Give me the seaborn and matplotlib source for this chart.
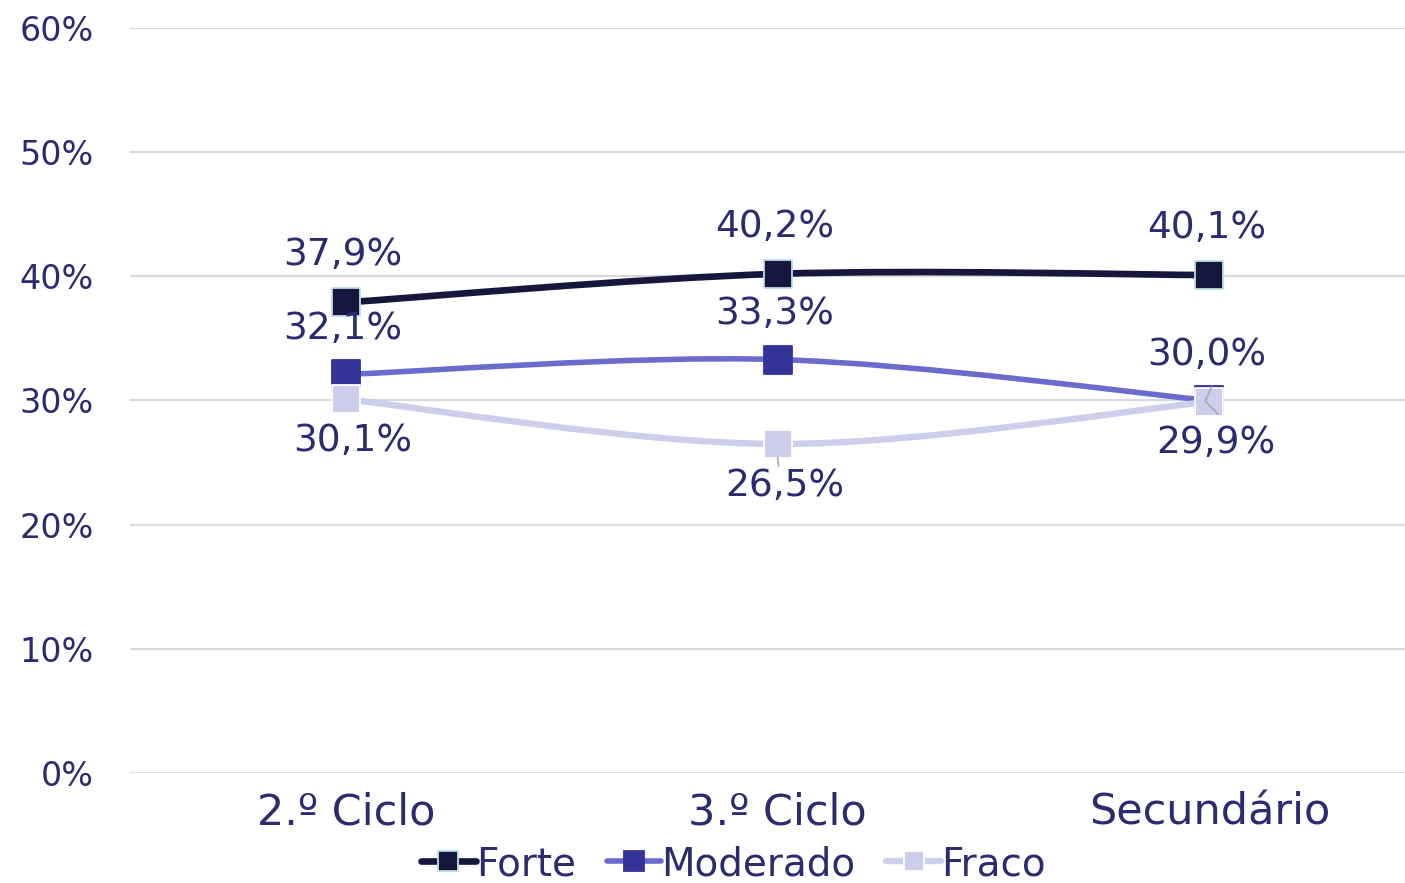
import matplotlib
matplotlib.use("Agg")
import matplotlib.pyplot as plt
import seaborn as sns
import numpy as np
import pandas as pd
from matplotlib.path import Path
from matplotlib.patches import PathPatch
from matplotlib.lines import Line2D
from matplotlib.ticker import FuncFormatter

# data
ciclos = ["2.º Ciclo", "3.º Ciclo", "Secundário"]
forte = [37.9, 40.2, 40.1]
moderado = [32.1, 33.3, 30.0]
fraco = [30.1, 26.5, 29.9]
series_names = ["Forte", "Moderado", "Fraco"]

text_col = "#2b2b70"
styles = {
    "Forte": dict(line="#16163f", face="#16163f", edge="#b9e0e0", lw=4.8),
    "Moderado": dict(line="#6b6bcc", face="#333399", edge="#333399", lw=4.0),
    "Fraco": dict(line="#cdcdec", face="#cdcdec", edge="#ffffff", lw=4.6),
}

df = pd.DataFrame({
    "pos": list(range(3)) * 3,
    "valor": forte + moderado + fraco,
    "nivel": [n for n in series_names for _ in range(3)],
})

sns.set_theme(style="white")
plt.rcParams["font.family"] = ["DejaVu Sans"]

fig = plt.figure(figsize=(14.05, 8.83), dpi=100)
ax = fig.add_axes([0.0925, 0.1246, 0.9075, 0.8437])


def smooth_path(xs, ys):
    # bezier segments like a spreadsheet "smoothed line"
    pts = np.column_stack([xs, ys]).astype(float)
    n = len(pts)
    verts = [pts[0]]
    codes = [Path.MOVETO]
    for i in range(n - 1):
        p_prev = pts[i - 1] if i > 0 else pts[i]
        p_next2 = pts[i + 2] if i + 2 < n else pts[i + 1]
        c1 = pts[i] + (pts[i + 1] - p_prev) / 6
        c2 = pts[i + 1] - (p_next2 - pts[i]) / 6
        verts += [c1, c2, pts[i + 1]]
        codes += [Path.CURVE4] * 3
    return Path(verts, codes)


for name in series_names:
    st = styles[name]
    sub = df[df["nivel"] == name]
    patch = PathPatch(smooth_path(sub["pos"], sub["valor"]), facecolor="none",
                      edgecolor=st["line"], lw=st["lw"], capstyle="round", zorder=3)
    ax.add_patch(patch)
    sns.scatterplot(data=sub, x="pos", y="valor", marker="s", s=20 ** 2,
                    color=st["face"], edgecolor=st["edge"], linewidth=1.3,
                    ax=ax, zorder=4, legend=False)

# small leader lines (grey) for labels pushed off their point
ax.plot([1, 1.002], [25.4, 24.7], color="#aaaaaa", lw=1.2, zorder=5)
ax.plot([2.005, 1.99, 2.02], [31.1, 29.95, 28.9], color="#aaaaaa", lw=1.2, zorder=5)

# data labels
lab_kw = dict(ha="center", va="center", fontsize=27, color=text_col, zorder=5)
for i, v in enumerate(forte):
    ax.annotate(f"{v:.1f}%".replace(".", ","), (i, v), xytext=(-2, 34),
                textcoords="offset points", **lab_kw)
for i, v in enumerate(moderado):
    ax.annotate(f"{v:.1f}%".replace(".", ","), (i, v), xytext=(-2, 33),
                textcoords="offset points", **lab_kw)
for i, v in enumerate(fraco):
    ax.annotate(f"{v:.1f}%".replace(".", ","), (i, v), xytext=(5, -30),
                textcoords="offset points", **lab_kw)

ax.set_xlim(-0.5, 2.453)
ax.set_ylim(0, 60)
ax.set_yticks(range(0, 61, 10))
ax.yaxis.set_major_formatter(FuncFormatter(lambda v, p: f"{v:.0f}%"))
ax.set_xticks(range(3))
ax.set_xticklabels(ciclos)
ax.tick_params(axis="y", labelsize=24, labelcolor=text_col, length=0, pad=26)
ax.tick_params(axis="x", labelsize=31, labelcolor=text_col, length=0, pad=13)
ax.grid(axis="y", color="#d9d9d9", lw=1.6)
ax.set_axisbelow(True)
for s in ax.spines.values():
    s.set_visible(False)
ax.set_xlabel("")
ax.set_ylabel("")

handles = [
    Line2D([0], [0], color=styles[n]["line"], lw=styles[n]["lw"], marker="s",
           markersize=14, markerfacecolor=styles[n]["face"],
           markeredgecolor=styles[n]["edge"], markeredgewidth=1.3,
           solid_capstyle="round")
    for n in series_names
]
fig.legend(handles, series_names, loc="lower center", bbox_to_anchor=(0.522, 0.0),
           ncol=3, frameon=False, fontsize=28, labelcolor=text_col,
           borderpad=0.0, borderaxespad=0.0,
           handlelength=1.4, handletextpad=0.0, columnspacing=0.8)

fig.savefig("out.png", dpi=100)
